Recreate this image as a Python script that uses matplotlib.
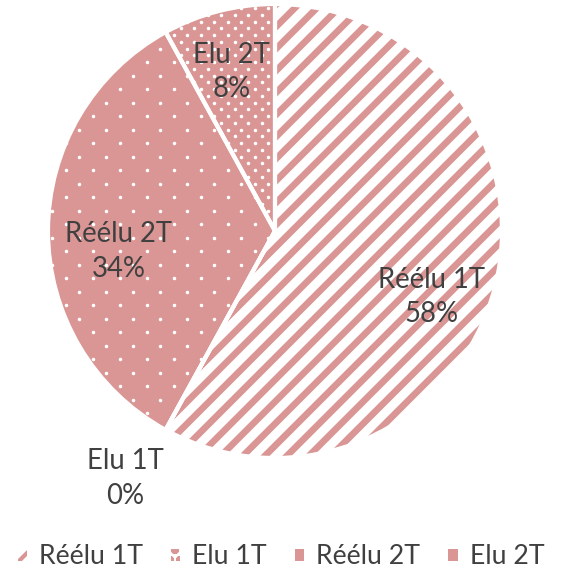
import matplotlib
matplotlib.use('Agg')
import matplotlib.pyplot as plt
import numpy as np
from matplotlib.collections import LineCollection
from matplotlib.patches import Patch

plt.rcParams['font.family'] = ['Lato', 'DejaVu Sans']
plt.rcParams['hatch.linewidth'] = 2.5

# data: number of seats per category (shares 58 / 0 / 34 / 8 %)
labels = ['Réélu 1T', 'Elu 1T', 'Réélu 2T', 'Elu 2T']
counts = [29, 0, 17, 4]

pink = '#D99694'
text_col = '#404040'
faces = ['white', 'white', pink, pink]
# texture per slice: stripes, (none visible), sparse dots, dense dots
textures = ['stripes', None, 'dots', 'dots2']

# where each data label sits (pie radius units, centre = 0,0)
label_pos = [(0.69, -0.29), (-0.66, -1.09), (-0.69, -0.09), (-0.19, 0.70)]

DPI = 120
R_PX = 227  # pie radius in pixels
fig = plt.figure(figsize=(562 / DPI, 578 / DPI), dpi=DPI)
ax = fig.add_axes([(275 - R_PX) / 562, (578 - 231 - R_PX) / 578,
                   2 * R_PX / 562, 2 * R_PX / 578])

wedges, _ = ax.pie(counts, startangle=90, counterclock=False, colors=faces,
                   wedgeprops=dict(linewidth=0))

px = 1.0 / R_PX  # one pixel in data units


def stripes(wedge):
    step = 22 * px
    offs = np.arange(-2.4, 2.4, step)
    segs = [[(-1.2, -1.2 + c), (1.2, 1.2 + c)] for c in offs]
    lc = LineCollection(segs, colors=pink, linewidths=4.0, zorder=2)
    ax.add_collection(lc)
    lc.set_clip_path(wedge)


def dots(wedge, dx, dy):
    rows = np.arange(-1.1, 1.1, dy * px)
    xs, ys = [], []
    for i, y in enumerate(rows):
        shift = (dx / 2) * px if i % 2 else 0.0
        row_x = np.arange(-1.1, 1.1, dx * px) + shift
        xs.extend(row_x)
        ys.extend([y] * len(row_x))
    sc = ax.scatter(xs, ys, s=4.5, c='white', linewidths=0, zorder=2)
    sc.set_clip_path(wedge)


for w, t in zip(wedges, textures):
    if t == 'stripes':
        stripes(w)
    elif t == 'dots':
        dots(w, 27, 13.5)
    elif t == 'dots2':
        dots(w, 13.5, 6.75)

# white separators between slices
ax.pie(counts, startangle=90, counterclock=False,
       wedgeprops=dict(fill=False, edgecolor='white', linewidth=2.5, zorder=3))

total = sum(counts)
for lab, c, (x, y) in zip(labels, counts, label_pos):
    ax.text(x, y, f'{lab}\n{round(100 * c / total)}%', ha='center', va='center',
            fontsize=16.5, color=text_col, linespacing=1.4, zorder=5)

ax.set_xlim(-1, 1)
ax.set_ylim(-1, 1)
ax.set_aspect('equal')
ax.axis('off')

handles = [
    Patch(facecolor='white', edgecolor=pink, hatch='//', linewidth=0),
    Patch(facecolor='white', edgecolor=pink, hatch='oo', linewidth=0),
    Patch(facecolor=pink, linewidth=0),
    Patch(facecolor=pink, linewidth=0),
]
fig.legend(handles, labels, loc='center', bbox_to_anchor=(0.5, 1 - 557 / 578),
           ncol=4, frameon=False, handlelength=0.35, handleheight=0.35,
           handletextpad=0.45, columnspacing=1.05, fontsize=16,
           labelcolor=text_col)

fig.savefig('out.png', dpi=DPI, facecolor='white')
